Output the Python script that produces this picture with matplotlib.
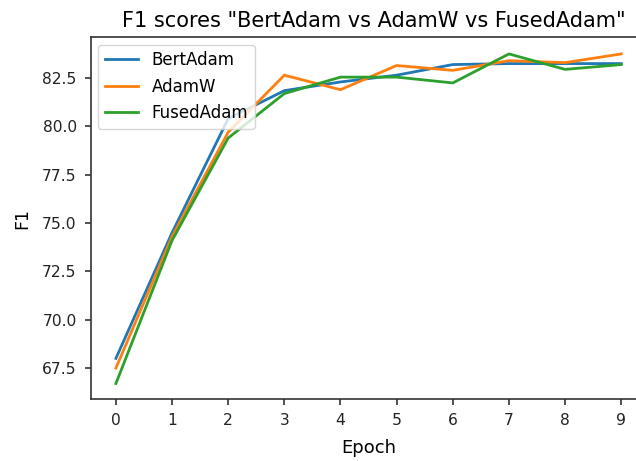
import matplotlib
matplotlib.use("Agg")
import matplotlib.pyplot as plt

epochs = [0, 1, 2, 3, 4, 5, 6, 7, 8, 9]
bert_adam = [68.0, 74.5, 80.4, 81.85, 82.3, 82.65, 83.2, 83.25, 83.25, 83.25]
adamw = [67.5, 74.3, 79.7, 82.65, 81.9, 83.15, 82.9, 83.4, 83.3, 83.75]
fused_adam = [66.7, 74.1, 79.4, 81.7, 82.55, 82.55, 82.25, 83.75, 82.95, 83.2]

title = 'F1 scores "BertAdam vs AdamW vs FusedAdam"'

fig = plt.figure(figsize=(6.36, 4.61), dpi=100)
ax = fig.add_axes([0.1425, 0.1345, 0.874, 0.785])

ax.plot(epochs, bert_adam, color="#1f77b4", lw=2.0, label="BertAdam")
ax.plot(epochs, adamw, color="#ff7f0e", lw=2.0, label="AdamW")
ax.plot(epochs, fused_adam, color="#2ca02c", lw=2.0, label="FusedAdam")

ax.set_xticks(epochs)
ax.set_ylim(65.9, 84.62)
ax.set_xlim(-0.45, 9.45)
ax.tick_params(labelsize=11.2, length=4, width=1.1, pad=6, colors="#222222")
for s in ax.spines.values():
    s.set_linewidth(1.2)
    s.set_color("#333333")
ax.set_xlabel("Epoch", fontsize=13, labelpad=8)
ax.set_ylabel("F1", fontsize=12.5, labelpad=8)
ax.set_title(title, fontsize=15, pad=7, x=0.51)
ax.legend(loc="upper left", fontsize=12, borderaxespad=0.45)

fig.savefig("out.png", dpi=100)
